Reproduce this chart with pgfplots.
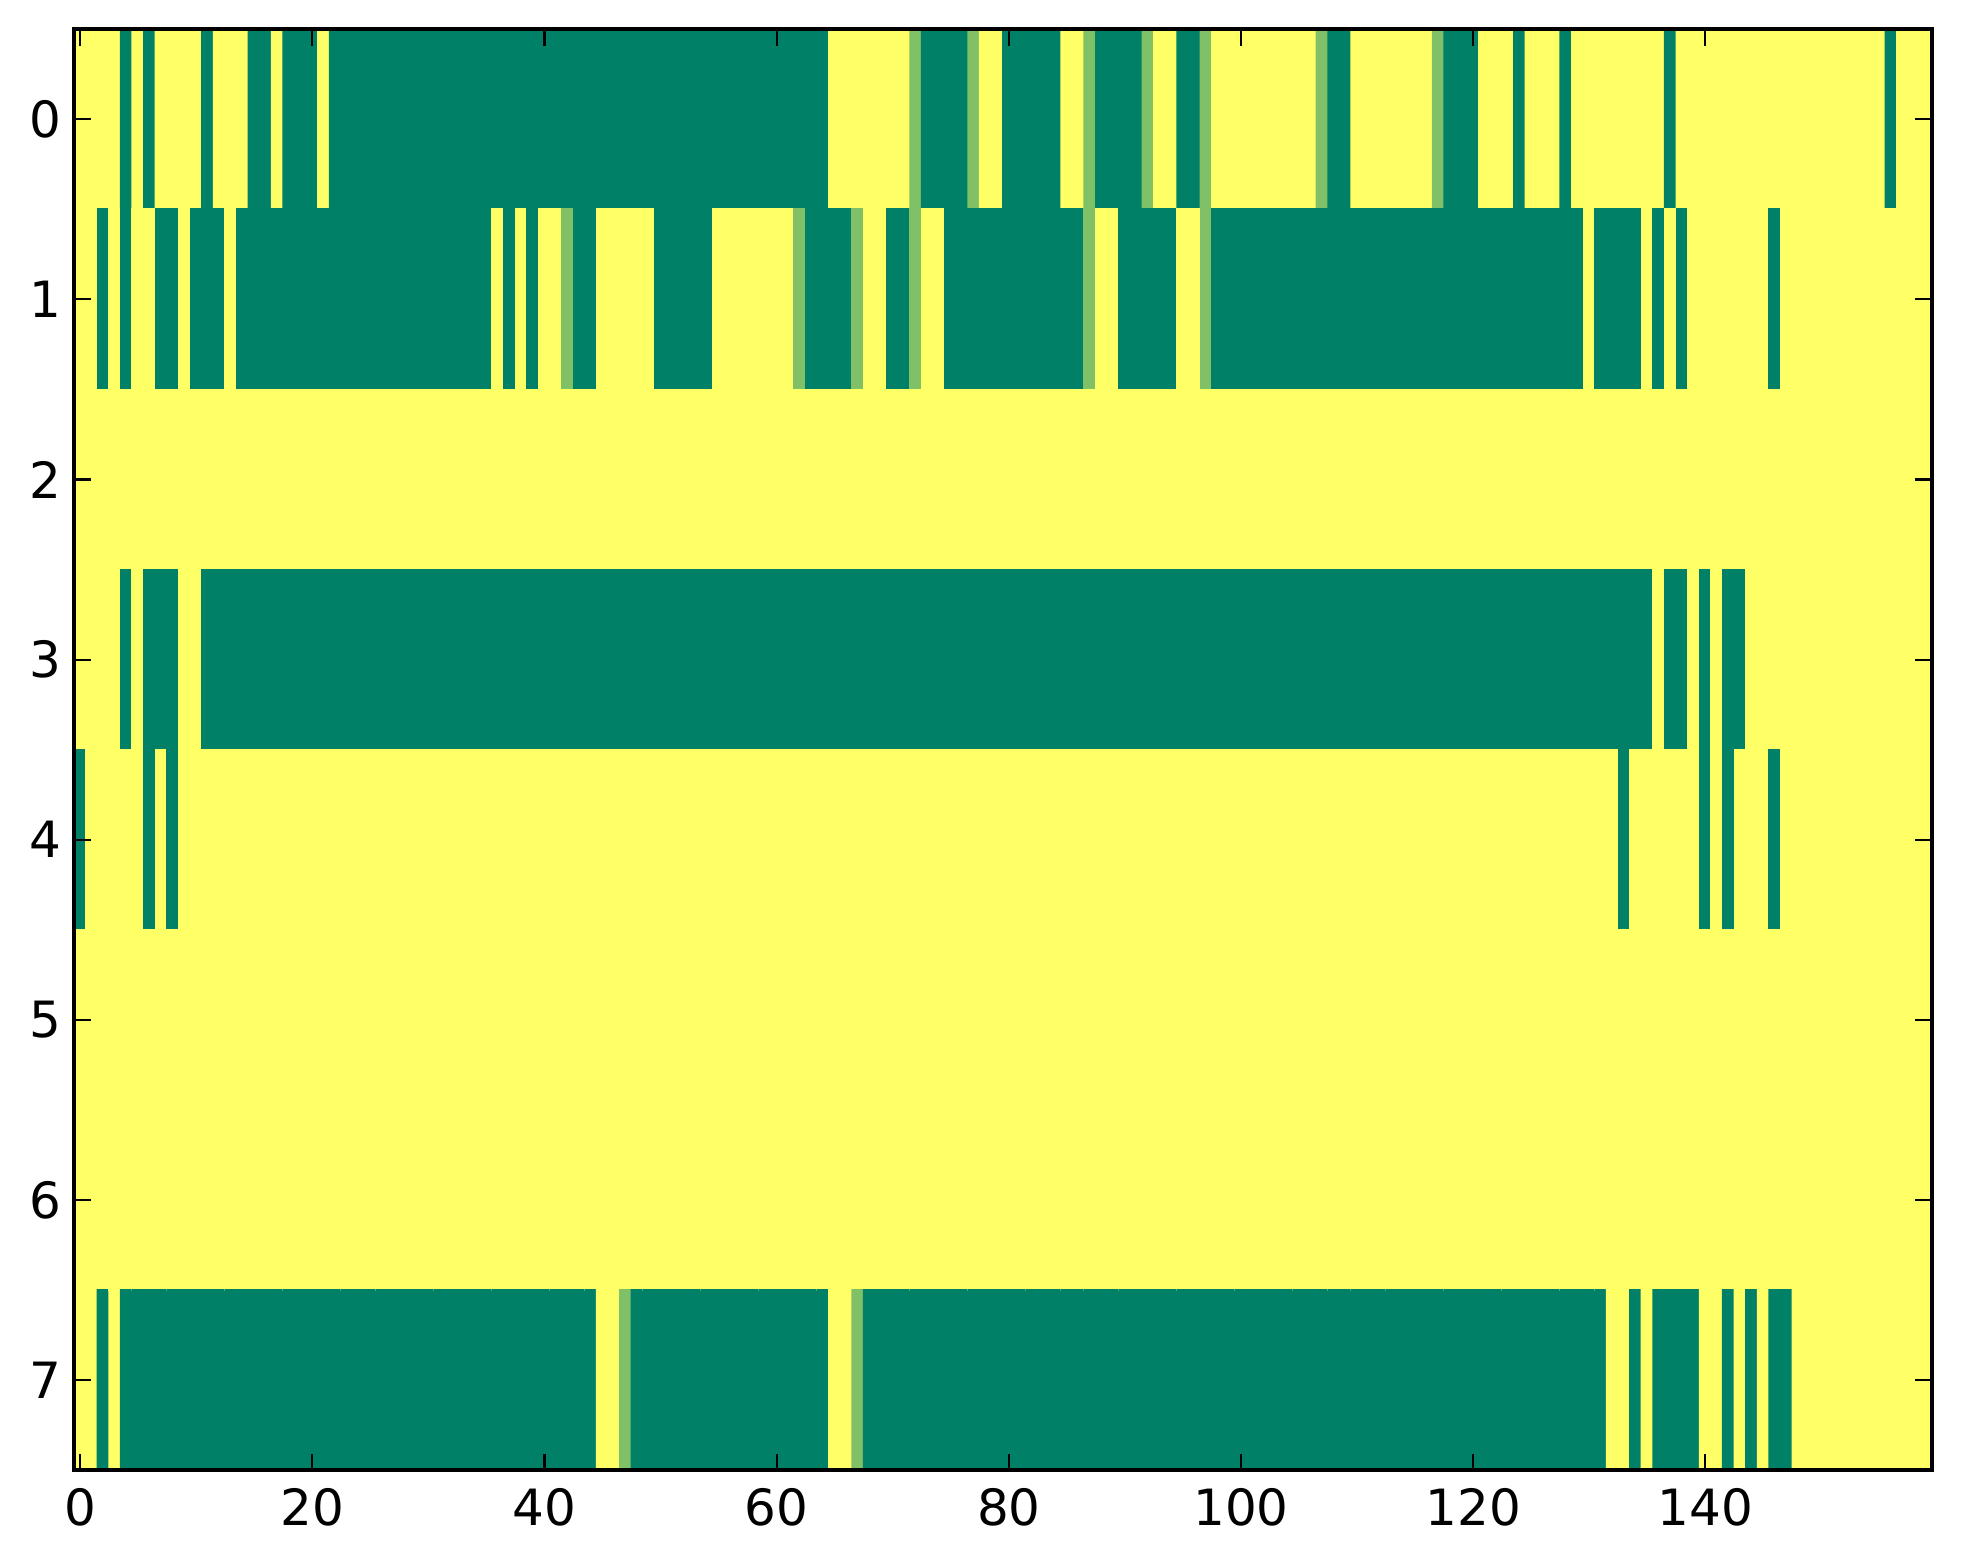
\documentclass[border=0pt]{standalone}
\usepackage{fontspec}
\setmainfont{DejaVu Sans}
\usepackage{pgfplots}
\usepackage{pgfplotstable}
\pgfplotsset{compat=1.18}

% 8 x 160 cells, row by row, 10 cells per line
% 1 = yellow, 0 = dark green, 0.5 = light green
\pgfplotstableread[row sep=\\, header=false]{
1\\1\\1\\1\\0\\1\\0\\1\\1\\1\\ % r0 c0
1\\0\\1\\1\\1\\0\\0\\1\\0\\0\\ % r0 c10
0\\1\\0\\0\\0\\0\\0\\0\\0\\0\\ % r0 c20
0\\0\\0\\0\\0\\0\\0\\0\\0\\0\\ % r0 c30
0\\0\\0\\0\\0\\0\\0\\0\\0\\0\\ % r0 c40
0\\0\\0\\0\\0\\0\\0\\0\\0\\0\\ % r0 c50
0\\0\\0\\0\\0\\1\\1\\1\\1\\1\\ % r0 c60
1\\1\\0.5\\0\\0\\0\\0\\0.5\\1\\1\\ % r0 c70
0\\0\\0\\0\\0\\1\\1\\0.5\\0\\0\\ % r0 c80
0\\0\\0.5\\1\\1\\0\\0\\0.5\\1\\1\\ % r0 c90
1\\1\\1\\1\\1\\1\\1\\0.5\\0\\0\\ % r0 c100
1\\1\\1\\1\\1\\1\\1\\0.5\\0\\0\\ % r0 c110
0\\1\\1\\1\\0\\1\\1\\1\\0\\1\\ % r0 c120
1\\1\\1\\1\\1\\1\\1\\0\\1\\1\\ % r0 c130
1\\1\\1\\1\\1\\1\\1\\1\\1\\1\\ % r0 c140
1\\1\\1\\1\\1\\1\\0\\1\\1\\1\\ % r0 c150
1\\1\\0\\1\\0\\1\\1\\0\\0\\1\\ % r1 c0
0\\0\\0\\1\\0\\0\\0\\0\\0\\0\\ % r1 c10
0\\0\\0\\0\\0\\0\\0\\0\\0\\0\\ % r1 c20
0\\0\\0\\0\\0\\0\\1\\0\\1\\0\\ % r1 c30
1\\1\\0.5\\0\\0\\1\\1\\1\\1\\1\\ % r1 c40
0\\0\\0\\0\\0\\1\\1\\1\\1\\1\\ % r1 c50
1\\1\\0.5\\0\\0\\0\\0\\0.5\\1\\1\\ % r1 c60
0\\0\\0.5\\1\\1\\0\\0\\0\\0\\0\\ % r1 c70
0\\0\\0\\0\\0\\0\\0\\0.5\\1\\1\\ % r1 c80
0\\0\\0\\0\\0\\1\\1\\0.5\\0\\0\\ % r1 c90
0\\0\\0\\0\\0\\0\\0\\0\\0\\0\\ % r1 c100
0\\0\\0\\0\\0\\0\\0\\0\\0\\0\\ % r1 c110
0\\0\\0\\0\\0\\0\\0\\0\\0\\0\\ % r1 c120
1\\0\\0\\0\\0\\1\\0\\1\\0\\1\\ % r1 c130
1\\1\\1\\1\\1\\1\\0\\1\\1\\1\\ % r1 c140
1\\1\\1\\1\\1\\1\\1\\1\\1\\1\\ % r1 c150
1\\1\\1\\1\\1\\1\\1\\1\\1\\1\\ % r2 c0
1\\1\\1\\1\\1\\1\\1\\1\\1\\1\\ % r2 c10
1\\1\\1\\1\\1\\1\\1\\1\\1\\1\\ % r2 c20
1\\1\\1\\1\\1\\1\\1\\1\\1\\1\\ % r2 c30
1\\1\\1\\1\\1\\1\\1\\1\\1\\1\\ % r2 c40
1\\1\\1\\1\\1\\1\\1\\1\\1\\1\\ % r2 c50
1\\1\\1\\1\\1\\1\\1\\1\\1\\1\\ % r2 c60
1\\1\\1\\1\\1\\1\\1\\1\\1\\1\\ % r2 c70
1\\1\\1\\1\\1\\1\\1\\1\\1\\1\\ % r2 c80
1\\1\\1\\1\\1\\1\\1\\1\\1\\1\\ % r2 c90
1\\1\\1\\1\\1\\1\\1\\1\\1\\1\\ % r2 c100
1\\1\\1\\1\\1\\1\\1\\1\\1\\1\\ % r2 c110
1\\1\\1\\1\\1\\1\\1\\1\\1\\1\\ % r2 c120
1\\1\\1\\1\\1\\1\\1\\1\\1\\1\\ % r2 c130
1\\1\\1\\1\\1\\1\\1\\1\\1\\1\\ % r2 c140
1\\1\\1\\1\\1\\1\\1\\1\\1\\1\\ % r2 c150
1\\1\\1\\1\\0\\1\\0\\0\\0\\1\\ % r3 c0
1\\0\\0\\0\\0\\0\\0\\0\\0\\0\\ % r3 c10
0\\0\\0\\0\\0\\0\\0\\0\\0\\0\\ % r3 c20
0\\0\\0\\0\\0\\0\\0\\0\\0\\0\\ % r3 c30
0\\0\\0\\0\\0\\0\\0\\0\\0\\0\\ % r3 c40
0\\0\\0\\0\\0\\0\\0\\0\\0\\0\\ % r3 c50
0\\0\\0\\0\\0\\0\\0\\0\\0\\0\\ % r3 c60
0\\0\\0\\0\\0\\0\\0\\0\\0\\0\\ % r3 c70
0\\0\\0\\0\\0\\0\\0\\0\\0\\0\\ % r3 c80
0\\0\\0\\0\\0\\0\\0\\0\\0\\0\\ % r3 c90
0\\0\\0\\0\\0\\0\\0\\0\\0\\0\\ % r3 c100
0\\0\\0\\0\\0\\0\\0\\0\\0\\0\\ % r3 c110
0\\0\\0\\0\\0\\0\\0\\0\\0\\0\\ % r3 c120
0\\0\\0\\0\\0\\0\\1\\0\\0\\1\\ % r3 c130
0\\1\\0\\0\\1\\1\\1\\1\\1\\1\\ % r3 c140
1\\1\\1\\1\\1\\1\\1\\1\\1\\1\\ % r3 c150
0\\1\\1\\1\\1\\1\\0\\1\\0\\1\\ % r4 c0
1\\1\\1\\1\\1\\1\\1\\1\\1\\1\\ % r4 c10
1\\1\\1\\1\\1\\1\\1\\1\\1\\1\\ % r4 c20
1\\1\\1\\1\\1\\1\\1\\1\\1\\1\\ % r4 c30
1\\1\\1\\1\\1\\1\\1\\1\\1\\1\\ % r4 c40
1\\1\\1\\1\\1\\1\\1\\1\\1\\1\\ % r4 c50
1\\1\\1\\1\\1\\1\\1\\1\\1\\1\\ % r4 c60
1\\1\\1\\1\\1\\1\\1\\1\\1\\1\\ % r4 c70
1\\1\\1\\1\\1\\1\\1\\1\\1\\1\\ % r4 c80
1\\1\\1\\1\\1\\1\\1\\1\\1\\1\\ % r4 c90
1\\1\\1\\1\\1\\1\\1\\1\\1\\1\\ % r4 c100
1\\1\\1\\1\\1\\1\\1\\1\\1\\1\\ % r4 c110
1\\1\\1\\1\\1\\1\\1\\1\\1\\1\\ % r4 c120
1\\1\\1\\0\\1\\1\\1\\1\\1\\1\\ % r4 c130
0\\1\\0\\1\\1\\1\\0\\1\\1\\1\\ % r4 c140
1\\1\\1\\1\\1\\1\\1\\1\\1\\1\\ % r4 c150
1\\1\\1\\1\\1\\1\\1\\1\\1\\1\\ % r5 c0
1\\1\\1\\1\\1\\1\\1\\1\\1\\1\\ % r5 c10
1\\1\\1\\1\\1\\1\\1\\1\\1\\1\\ % r5 c20
1\\1\\1\\1\\1\\1\\1\\1\\1\\1\\ % r5 c30
1\\1\\1\\1\\1\\1\\1\\1\\1\\1\\ % r5 c40
1\\1\\1\\1\\1\\1\\1\\1\\1\\1\\ % r5 c50
1\\1\\1\\1\\1\\1\\1\\1\\1\\1\\ % r5 c60
1\\1\\1\\1\\1\\1\\1\\1\\1\\1\\ % r5 c70
1\\1\\1\\1\\1\\1\\1\\1\\1\\1\\ % r5 c80
1\\1\\1\\1\\1\\1\\1\\1\\1\\1\\ % r5 c90
1\\1\\1\\1\\1\\1\\1\\1\\1\\1\\ % r5 c100
1\\1\\1\\1\\1\\1\\1\\1\\1\\1\\ % r5 c110
1\\1\\1\\1\\1\\1\\1\\1\\1\\1\\ % r5 c120
1\\1\\1\\1\\1\\1\\1\\1\\1\\1\\ % r5 c130
1\\1\\1\\1\\1\\1\\1\\1\\1\\1\\ % r5 c140
1\\1\\1\\1\\1\\1\\1\\1\\1\\1\\ % r5 c150
1\\1\\1\\1\\1\\1\\1\\1\\1\\1\\ % r6 c0
1\\1\\1\\1\\1\\1\\1\\1\\1\\1\\ % r6 c10
1\\1\\1\\1\\1\\1\\1\\1\\1\\1\\ % r6 c20
1\\1\\1\\1\\1\\1\\1\\1\\1\\1\\ % r6 c30
1\\1\\1\\1\\1\\1\\1\\1\\1\\1\\ % r6 c40
1\\1\\1\\1\\1\\1\\1\\1\\1\\1\\ % r6 c50
1\\1\\1\\1\\1\\1\\1\\1\\1\\1\\ % r6 c60
1\\1\\1\\1\\1\\1\\1\\1\\1\\1\\ % r6 c70
1\\1\\1\\1\\1\\1\\1\\1\\1\\1\\ % r6 c80
1\\1\\1\\1\\1\\1\\1\\1\\1\\1\\ % r6 c90
1\\1\\1\\1\\1\\1\\1\\1\\1\\1\\ % r6 c100
1\\1\\1\\1\\1\\1\\1\\1\\1\\1\\ % r6 c110
1\\1\\1\\1\\1\\1\\1\\1\\1\\1\\ % r6 c120
1\\1\\1\\1\\1\\1\\1\\1\\1\\1\\ % r6 c130
1\\1\\1\\1\\1\\1\\1\\1\\1\\1\\ % r6 c140
1\\1\\1\\1\\1\\1\\1\\1\\1\\1\\ % r6 c150
1\\1\\0\\1\\0\\0\\0\\0\\0\\0\\ % r7 c0
0\\0\\0\\0\\0\\0\\0\\0\\0\\0\\ % r7 c10
0\\0\\0\\0\\0\\0\\0\\0\\0\\0\\ % r7 c20
0\\0\\0\\0\\0\\0\\0\\0\\0\\0\\ % r7 c30
0\\0\\0\\0\\0\\1\\1\\0.5\\0\\0\\ % r7 c40
0\\0\\0\\0\\0\\0\\0\\0\\0\\0\\ % r7 c50
0\\0\\0\\0\\0\\1\\1\\0.5\\0\\0\\ % r7 c60
0\\0\\0\\0\\0\\0\\0\\0\\0\\0\\ % r7 c70
0\\0\\0\\0\\0\\0\\0\\0\\0\\0\\ % r7 c80
0\\0\\0\\0\\0\\0\\0\\0\\0\\0\\ % r7 c90
0\\0\\0\\0\\0\\0\\0\\0\\0\\0\\ % r7 c100
0\\0\\0\\0\\0\\0\\0\\0\\0\\0\\ % r7 c110
0\\0\\0\\0\\0\\0\\0\\0\\0\\0\\ % r7 c120
0\\0\\1\\1\\0\\1\\0\\0\\0\\0\\ % r7 c130
1\\1\\0\\1\\0\\1\\0\\0\\1\\1\\ % r7 c140
1\\1\\1\\1\\1\\1\\1\\1\\1\\1\\ % r7 c150
}\cells

\begin{document}
\begin{tikzpicture}
\begin{axis}[
  scale only axis, width=446pt, height=346pt,
  xmin=-0.5, xmax=159.5, ymin=-0.5, ymax=7.5,
  y dir=reverse, enlargelimits=false, axis on top,
  xtick={0,20,...,140}, ytick={0,...,7},
  tick align=inside, major tick length=4pt,
  tick style={black, line width=0.5pt},
  axis line style={line width=1pt},
  ticklabel style={font=\fontsize{12}{14}\selectfont, inner sep=0pt},
  xticklabel style={yshift=-4.2pt},
  yticklabel style={xshift=-3pt},
  /pgf/number format/assume math mode=true,
  colormap={summer}{rgb=(0,0.5,0.4) rgb=(1,1,0.4)},
  point meta min=0, point meta max=1,
]
\addplot[matrix plot*, mesh/cols=160, point meta=explicit]
  table[x index=0, y index=0, meta index=0,
        x expr={mod(\coordindex,160)}, y expr={floor(\coordindex/160)}]{\cells};
\end{axis}
\path ([shift={(-7pt,-7pt)}]current bounding box.south west)
      ([shift={(7pt,6.5pt)}]current bounding box.north east);
\end{tikzpicture}
\end{document}
